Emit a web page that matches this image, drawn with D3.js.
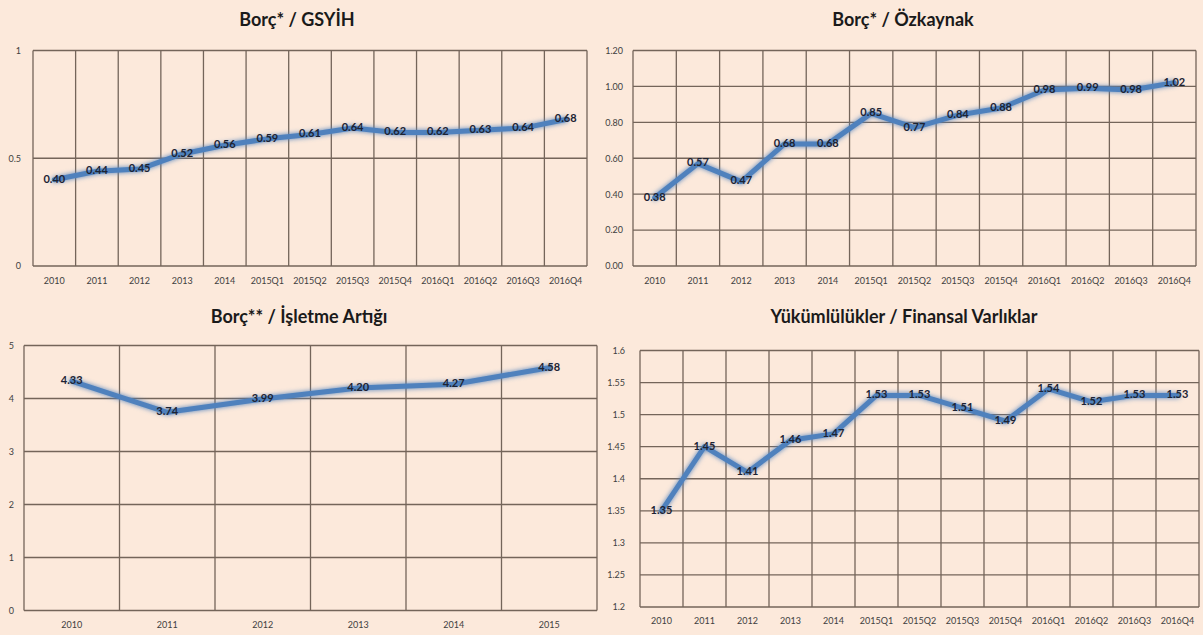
<!DOCTYPE html>
<html>
<head>
<meta charset="utf-8">
<script src="https://cdn.jsdelivr.net/npm/d3@7"></script>
<style>
  html, body { margin: 0; padding: 0; background: #FCE9DB; }
  svg { display: block; }
</style>
</head>
<body>
<svg id="chart" width="1203" height="635"></svg>
<script>
// ---- Data ----
const quarterCats = ['2010','2011','2012','2013','2014','2015Q1','2015Q2','2015Q3','2015Q4','2016Q1','2016Q2','2016Q3','2016Q4'];
const yearCats = ['2010','2011','2012','2013','2014','2015'];

const borcGsyih = [0.40,0.44,0.45,0.52,0.56,0.59,0.61,0.64,0.62,0.62,0.63,0.64,0.68];
const borcOzkaynak = [0.38,0.57,0.47,0.68,0.68,0.85,0.77,0.84,0.88,0.98,0.99,0.98,1.02];
const borcIsletme = [4.33,3.74,3.99,4.20,4.27,4.58];
const yukFinansal = [1.35,1.45,1.41,1.46,1.47,1.53,1.53,1.51,1.49,1.54,1.52,1.53,1.53];

const ticks1 = [0, 0.5, 1];
const ticks2 = [0, 0.2, 0.4, 0.6, 0.8, 1.0, 1.2];
const ticks3 = [0, 1, 2, 3, 4, 5];
const ticks4 = [1.2, 1.25, 1.3, 1.35, 1.4, 1.45, 1.5, 1.55, 1.6];

const titles = ['Borç* / GSYİH', 'Borç* / Özkaynak', 'Borç** / İşletme Artığı', 'Yükümlülükler / Finansal Varlıklar'];

// ---- Layout ----
const panels = [
  {title: titles[0], cats: quarterCats, vals: borcGsyih, ticks: ticks1, fmt: d => String(+d.toFixed(2)),
   x0: 33, x1: 587, y0: 50.5, y1: 266, tx: 297, ty: 21, xl: 281, yl: 21},
  {title: titles[1], cats: quarterCats, vals: borcOzkaynak, ticks: ticks2, fmt: d3.format('.2f'),
   x0: 633, x1: 1196, y0: 50.5, y1: 266, tx: 903, ty: 21, xl: 281, yl: 623},
  {title: titles[2], cats: yearCats, vals: borcIsletme, ticks: ticks3, fmt: d => String(d),
   x0: 24, x1: 597, y0: 345.5, y1: 610.5, tx: 299, ty: 318, xl: 625, yl: 14},
  {title: titles[3], cats: quarterCats, vals: yukFinansal, ticks: ticks4, fmt: d => String(+d.toFixed(2)),
   x0: 640, x1: 1199, y0: 350.5, y1: 607, tx: 904, ty: 318, xl: 621, yl: 625}
];

const svg = d3.select('#chart');
svg.append('rect').attr('width', 1203).attr('height', 635).attr('fill', '#FCE9DB');

const defs = svg.append('defs');
const f = defs.append('filter').attr('id', 'glow').attr('x', '-10%').attr('y', '-30%').attr('width', '120%').attr('height', '160%');
f.append('feGaussianBlur').attr('in', 'SourceGraphic').attr('stdDeviation', 2.4).attr('result', 'b');
const fm = f.append('feMerge');
fm.append('feMergeNode').attr('in', 'b');
fm.append('feMergeNode').attr('in', 'SourceGraphic');

const gridColor = '#74655a';
const font = 'Lato, "Open Sans", sans-serif';

panels.forEach(p => {
  const g = svg.append('g');
  const x = d3.scaleBand().domain(p.cats).range([p.x0, p.x1]).padding(0);
  const y = d3.scaleLinear().domain([p.ticks[0], p.ticks[p.ticks.length - 1]]).range([p.y1, p.y0]);

  // title
  g.append('text').attr('x', p.tx).attr('y', p.ty).attr('text-anchor', 'middle').attr('dominant-baseline', 'middle')
    .attr('font-family', font).attr('font-weight', 'bold').attr('font-size', 18).attr('fill', '#1a1a1a').text(p.title);

  // horizontal gridlines
  g.selectAll('line.h').data(p.ticks).join('line')
    .attr('x1', p.x0).attr('x2', p.x1)
    .attr('y1', d => y(d)).attr('y2', d => y(d))
    .attr('stroke', gridColor).attr('stroke-width', 1.3);

  // vertical gridlines at band edges
  const edges = p.cats.map(c => x(c)).concat([x(p.cats[p.cats.length - 1]) + x.bandwidth()]);
  g.selectAll('line.v').data(edges).join('line')
    .attr('x1', d => d).attr('x2', d => d)
    .attr('y1', p.y0).attr('y2', p.y1)
    .attr('stroke', gridColor).attr('stroke-width', 1.3);

  // y axis labels
  const ya = g.append('g').attr('transform', `translate(${p.yl + 4},0)`)
    .call(d3.axisLeft(y).tickValues(p.ticks).tickFormat(p.fmt).tickSize(0).tickPadding(4));
  ya.select('.domain').remove();
  ya.selectAll('text').attr('font-family', font).attr('font-size', 9).attr('fill', '#404040');

  // x axis labels
  const xa = g.append('g').attr('transform', `translate(0,${p.xl - 6})`)
    .call(d3.axisBottom(x).tickSize(0).tickPadding(0));
  xa.select('.domain').remove();
  xa.selectAll('text').attr('font-family', font).attr('font-size', 9).attr('fill', '#404040').attr('dy', '0.32em').attr('y', 6);

  // line
  const line = d3.line().x((d, i) => x(p.cats[i]) + x.bandwidth() / 2).y(d => y(d));
  g.append('path').datum(p.vals).attr('d', line)
    .attr('fill', 'none').attr('stroke', '#4F81BD').attr('stroke-width', 5)
    .attr('stroke-linejoin', 'round').attr('stroke-linecap', 'round').attr('filter', 'url(#glow)');

  // data labels
  g.selectAll('text.lbl').data(p.vals).join('text')
    .attr('x', (d, i) => x(p.cats[i]) + x.bandwidth() / 2)
    .attr('y', d => y(d))
    .attr('text-anchor', 'middle').attr('dominant-baseline', 'middle')
    .attr('font-family', font).attr('font-weight', 'bold').attr('font-size', 11).attr('fill', '#1c2333')
    .text(d => d.toFixed(2));
});
</script>
</body>
</html>
